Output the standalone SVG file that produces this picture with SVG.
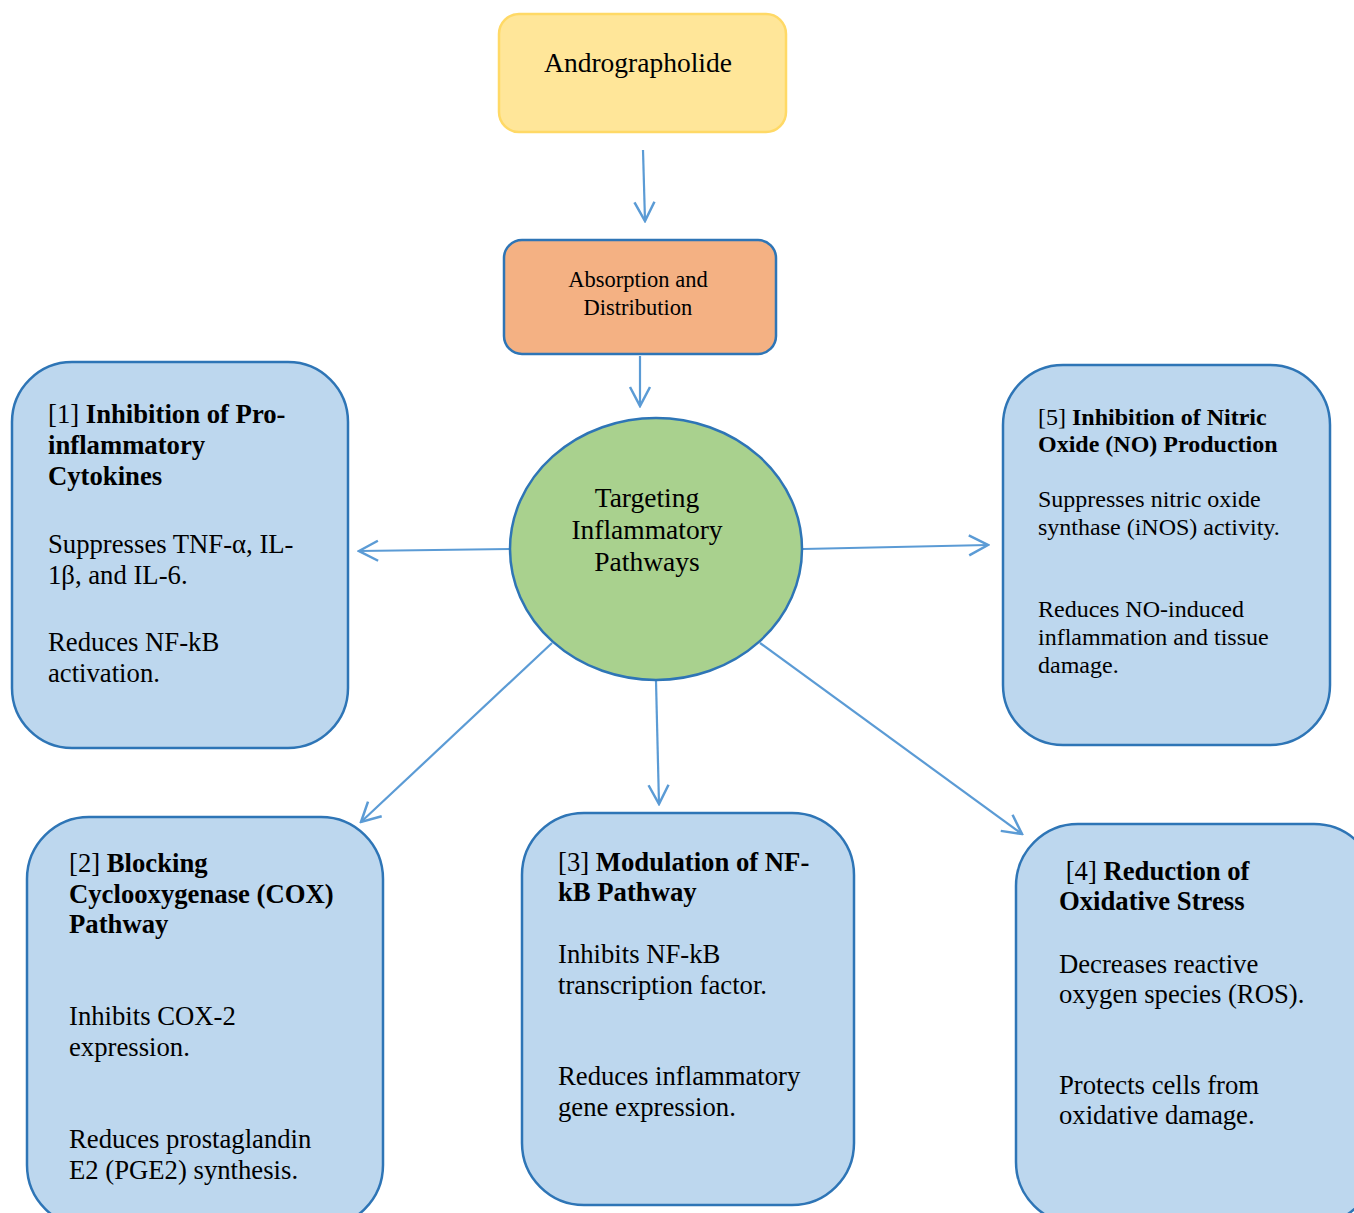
<svg xmlns="http://www.w3.org/2000/svg" width="1354" height="1213" viewBox="0 0 1354 1213">
<style>
text{font-family:"Liberation Serif","Times New Roman",serif;fill:#000}
.box{fill:#BDD7EE;stroke:#2E75B6;stroke-width:2.5}
.b{font-weight:bold}
.t20{font-size:26.7px}
.t18{font-size:24px}
.conn{stroke:#5B9BD5;stroke-width:2.2;fill:none;marker-end:url(#arr)}
</style>
<defs>
<marker id="arr" viewBox="0 0 22 24" refX="20" refY="12" markerWidth="22" markerHeight="24" orient="auto" markerUnits="userSpaceOnUse">
<path d="M1,2 L20,12 L1,22" fill="none" stroke="#5B9BD5" stroke-width="2.5"/>
</marker>
</defs>
<rect width="1354" height="1213" fill="#fff"/>
<g id="connectors">
<line class="conn" x1="643" y1="150" x2="645" y2="221"/>
<line class="conn" x1="640" y1="356" x2="640" y2="406"/>
<line class="conn" x1="510" y1="549" x2="359" y2="551"/>
<line class="conn" x1="803" y1="549" x2="988" y2="545"/>
<line class="conn" x1="552" y1="643" x2="361" y2="822"/>
<line class="conn" x1="656" y1="681" x2="659" y2="804"/>
<line class="conn" x1="760" y1="643" x2="1022" y2="834"/>
</g>
<g id="andrographolide">
<rect x="499" y="14" width="287" height="118" rx="20" fill="#FFE699" stroke="#FFD966" stroke-width="2.5"/>
<text x="638" y="72" font-size="27.5" text-anchor="middle">Andrographolide</text>
</g>
<g id="absorption">
<rect x="504" y="240" width="272" height="114" rx="18" fill="#F4B183" stroke="#2E75B6" stroke-width="2.5"/>
<text x="638" y="287" font-size="22.5" text-anchor="middle">Absorption and</text>
<text x="638" y="315" font-size="22.5" text-anchor="middle">Distribution</text>
</g>
<g id="targeting">
<ellipse cx="656" cy="549" rx="146" ry="131" fill="#A9D18E" stroke="#2E75B6" stroke-width="2.5"/>
<text x="647" y="507" font-size="27.5" text-anchor="middle">Targeting</text>
<text x="647" y="539" font-size="27.5" text-anchor="middle">Inflammatory</text>
<text x="647" y="571" font-size="27.5" text-anchor="middle">Pathways</text>
</g>
<g id="box1">
<rect class="box" x="12" y="362" width="336" height="386" rx="60"/>
<text class="t20" x="48" y="423">[1] <tspan class="b">Inhibition of Pro-</tspan></text>
<text class="t20 b" x="48" y="454">inflammatory</text>
<text class="t20 b" x="48" y="485">Cytokines</text>
<text class="t20" x="48" y="553">Suppresses TNF-α, IL-</text>
<text class="t20" x="48" y="584">1β, and IL-6.</text>
<text class="t20" x="48" y="651">Reduces NF-kB</text>
<text class="t20" x="48" y="682">activation.</text>
</g>
<g id="box5">
<rect class="box" x="1003" y="365" width="327" height="380" rx="60"/>
<text class="t18" x="1038" y="425">[5] <tspan class="b">Inhibition of Nitric</tspan></text>
<text class="t18 b" x="1038" y="452">Oxide (NO) Production</text>
<text class="t18" x="1038" y="507">Suppresses nitric oxide</text>
<text class="t18" x="1038" y="535">synthase (iNOS) activity.</text>
<text class="t18" x="1038" y="617">Reduces NO-induced</text>
<text class="t18" x="1038" y="645">inflammation and tissue</text>
<text class="t18" x="1038" y="673">damage.</text>
</g>
<g id="box2">
<rect class="box" x="27" y="817" width="356" height="410" rx="62"/>
<text class="t20" x="69" y="872">[2] <tspan class="b">Blocking</tspan></text>
<text class="t20 b" x="69" y="903">Cyclooxygenase (COX)</text>
<text class="t20 b" x="69" y="933">Pathway</text>
<text class="t20" x="69" y="1025">Inhibits COX-2</text>
<text class="t20" x="69" y="1056">expression.</text>
<text class="t20" x="69" y="1148">Reduces prostaglandin</text>
<text class="t20" x="69" y="1179">E2 (PGE2) synthesis.</text>
</g>
<g id="box3">
<rect class="box" x="522" y="813" width="332" height="392" rx="62"/>
<text class="t20" x="558" y="871">[3] <tspan class="b">Modulation of NF-</tspan></text>
<text class="t20 b" x="558" y="901">kB Pathway</text>
<text class="t20" x="558" y="963">Inhibits NF-kB</text>
<text class="t20" x="558" y="994">transcription factor.</text>
<text class="t20" x="558" y="1085">Reduces inflammatory</text>
<text class="t20" x="558" y="1116">gene expression.</text>
</g>
<g id="box4">
<rect class="box" x="1016" y="824" width="360" height="400" rx="62"/>
<text class="t20" x="1059" y="880" xml:space="preserve"> [4] <tspan class="b">Reduction of</tspan></text>
<text class="t20 b" x="1059" y="910">Oxidative Stress</text>
<text class="t20" x="1059" y="973">Decreases reactive</text>
<text class="t20" x="1059" y="1003">oxygen species (ROS).</text>
<text class="t20" x="1059" y="1094">Protects cells from</text>
<text class="t20" x="1059" y="1124">oxidative damage.</text>
</g>
</svg>
